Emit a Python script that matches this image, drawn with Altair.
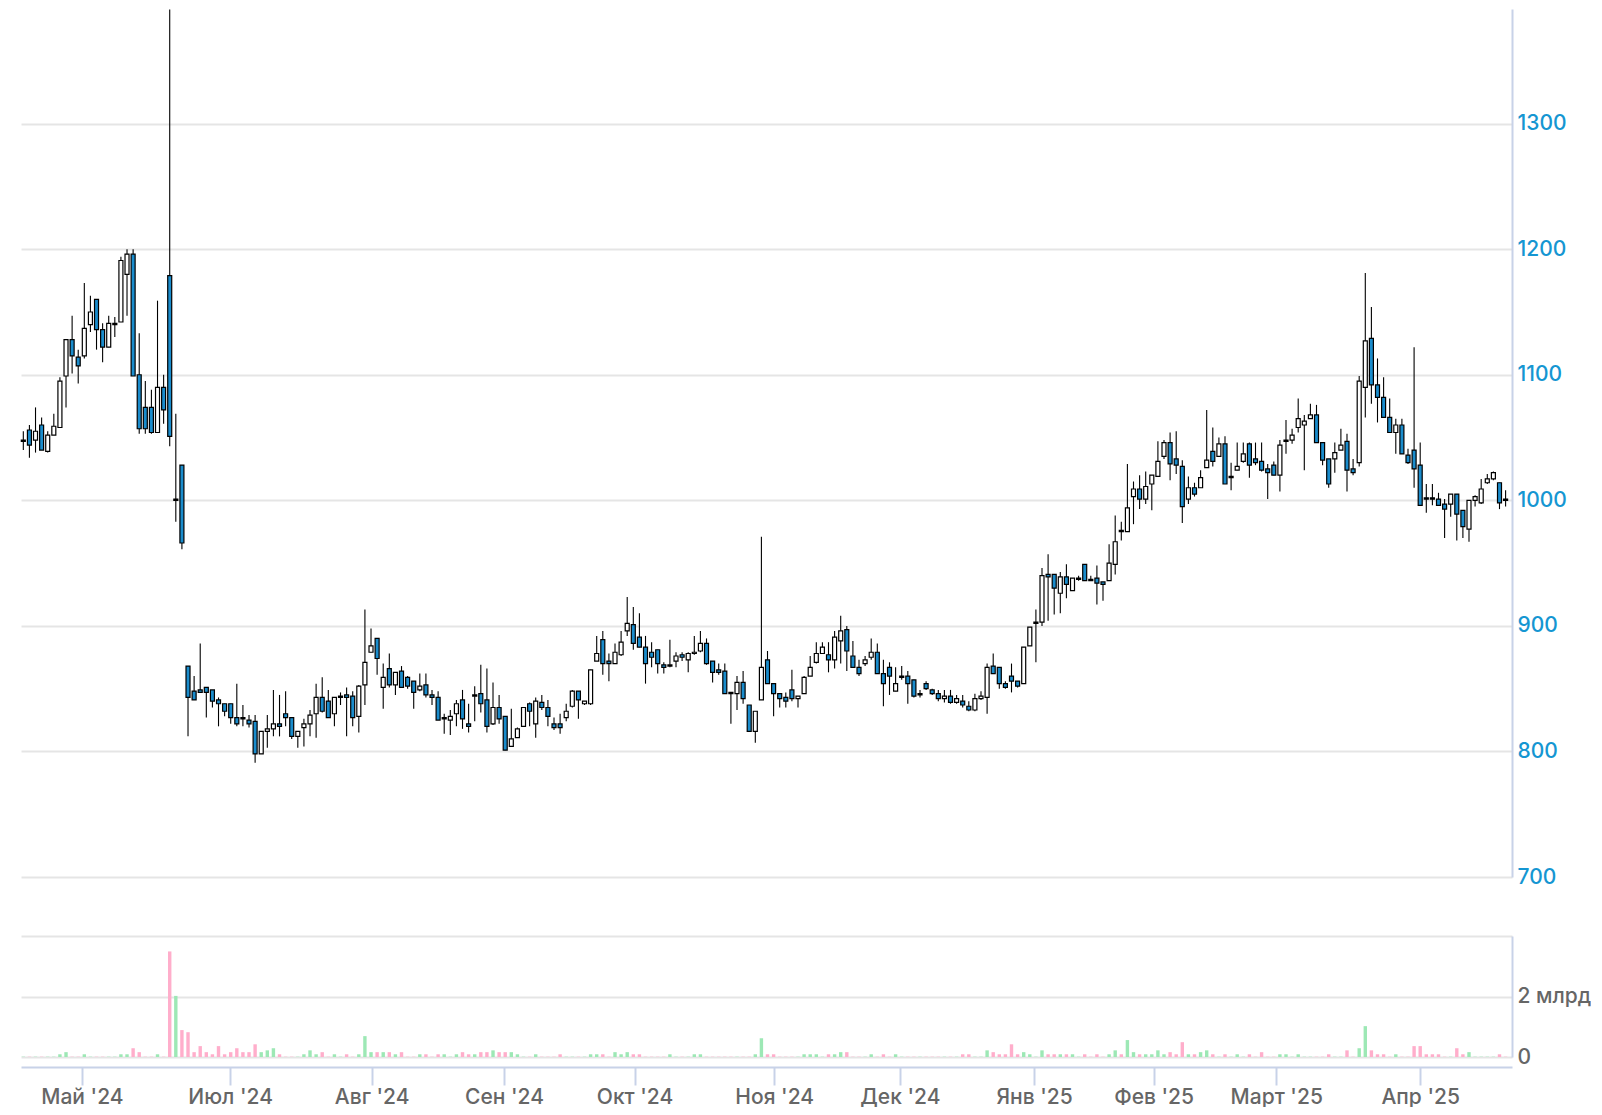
import json
import altair as alt
import pandas as pd

# Daily candles (index-based x axis), prices in RUB
OPEN = [1047, 1056, 1048, 1060, 1039, 1052, 1058, 1099, 1128, 1114,
        1115, 1140, 1160, 1136, 1122, 1140, 1142, 1180, 1196, 1100,
        1074, 1074, 1054, 1090, 1179, 1000, 1028, 868, 848, 849,
        851, 849, 841, 838, 838, 827, 827, 825, 824, 798,
        816, 818, 822, 830, 827, 812, 819, 822, 830, 843,
        840, 830, 843, 845, 844, 828, 853, 879, 890, 851,
        866, 853, 864, 859, 856, 849, 853, 845, 843, 826,
        825, 830, 841, 822, 844, 846, 841, 822, 835, 828,
        804, 811, 820, 838, 822, 839, 835, 822, 822, 827,
        836, 848, 838, 838, 872, 889, 872, 870, 877, 896,
        901, 891, 883, 879, 881, 869, 868, 872, 877, 873,
        878, 880, 886, 872, 865, 864, 847, 846, 855, 837,
        816, 841, 873, 854, 846, 843, 849, 842, 846, 860,
        871, 878, 877, 873, 888, 897, 876, 867, 870, 875,
        879, 862, 867, 848, 859, 860, 857, 845, 854, 849,
        846, 842, 844, 839, 840, 836, 833, 842, 843, 868,
        867, 854, 860, 856, 854, 884, 902, 903, 941, 941,
        926, 939, 928, 937, 949, 937, 938, 935, 936, 949,
        976, 975, 1003, 1009, 1001, 1013, 1019, 1035, 1046, 1033,
        1027, 1001, 1010, 1010, 1026, 1039, 1035, 1045, 1018, 1024,
        1031, 1045, 1033, 1031, 1025, 1028, 1020, 1047, 1048, 1058,
        1060, 1065, 1068, 1046, 1033, 1033, 1040, 1047, 1025, 1030,
        1090, 1129, 1092, 1082, 1066, 1054, 1060, 1036, 1040, 1028,
        1002, 1002, 1001, 997, 997, 1005, 992, 977, 1000, 998,
        1014, 1017, 1014, 1001]
HIGH = [1055, 1060, 1074, 1066, 1055, 1069, 1098, 1128, 1147, 1120,
        1173, 1163, 1160, 1141, 1147, 1146, 1194, 1200, 1200, 1133,
        1095, 1088, 1159, 1100, 1391, 1069, 1028, 868, 860, 886,
        851, 849, 843, 838, 838, 854, 837, 829, 829, 816,
        829, 849, 845, 848, 827, 816, 826, 833, 854, 859,
        849, 843, 847, 851, 848, 853, 913, 898, 890, 870,
        878, 863, 868, 860, 856, 862, 862, 849, 848, 830,
        833, 841, 849, 838, 852, 869, 866, 855, 845, 828,
        834, 819, 835, 839, 843, 845, 841, 827, 830, 838,
        849, 848, 840, 865, 892, 896, 878, 886, 896, 923,
        915, 910, 892, 887, 881, 871, 889, 879, 879, 879,
        892, 896, 890, 872, 870, 870, 847, 860, 864, 837,
        832, 971, 880, 854, 846, 847, 865, 844, 860, 876,
        887, 887, 887, 896, 908, 900, 888, 873, 876, 890,
        886, 873, 871, 867, 868, 864, 857, 849, 856, 850,
        849, 849, 849, 845, 845, 840, 846, 848, 870, 878,
        867, 856, 870, 856, 883, 899, 913, 946, 957, 941,
        943, 949, 938, 940, 949, 940, 948, 935, 965, 988,
        983, 1029, 1015, 1020, 1023, 1020, 1047, 1048, 1054, 1055,
        1032, 1019, 1014, 1024, 1072, 1058, 1050, 1051, 1030, 1046,
        1046, 1046, 1046, 1046, 1029, 1031, 1048, 1064, 1057, 1081,
        1068, 1077, 1076, 1046, 1033, 1046, 1057, 1053, 1033, 1099,
        1181, 1154, 1113, 1098, 1081, 1065, 1065, 1041, 1122, 1046,
        1013, 1013, 1006, 1001, 1005, 1005, 992, 1000, 1004, 1017,
        1021, 1023, 1014, 1008]
LOW = [1040, 1034, 1038, 1040, 1038, 1052, 1058, 1074, 1101, 1093,
       1113, 1134, 1120, 1110, 1122, 1130, 1142, 1147, 1099, 1053,
       1053, 1053, 1054, 1061, 1043, 983, 961, 812, 841, 847,
       827, 835, 820, 828, 822, 820, 820, 819, 791, 798,
       803, 812, 812, 820, 810, 803, 804, 812, 811, 831,
       827, 820, 837, 812, 820, 815, 837, 879, 861, 834,
       851, 845, 851, 850, 834, 848, 843, 837, 825, 814,
       813, 820, 818, 815, 824, 831, 815, 821, 822, 801,
       804, 811, 820, 820, 811, 833, 820, 817, 814, 824,
       835, 826, 837, 837, 872, 861, 856, 870, 876, 892,
       881, 883, 854, 867, 862, 862, 867, 867, 872, 863,
       877, 879, 869, 855, 861, 846, 822, 833, 838, 816,
       807, 841, 854, 828, 835, 835, 840, 835, 846, 860,
       870, 878, 863, 866, 870, 864, 867, 860, 868, 873,
       862, 836, 845, 848, 857, 838, 843, 843, 849, 845,
       840, 839, 838, 838, 835, 832, 832, 841, 830, 862,
       850, 850, 847, 851, 854, 884, 871, 900, 904, 909,
       910, 922, 928, 936, 936, 936, 917, 920, 936, 941,
       968, 975, 981, 993, 997, 992, 1019, 1033, 1016, 1021,
       982, 997, 1003, 1010, 1026, 1027, 1035, 1013, 1008, 1024,
       1030, 1018, 1028, 1023, 1001, 1020, 1007, 1037, 1045, 1054,
       1024, 1065, 1046, 1028, 1010, 1022, 1040, 1007, 1020, 1027,
       1066, 1077, 1062, 1066, 1054, 1037, 1037, 1029, 1010, 996,
       990, 996, 996, 970, 987, 968, 970, 967, 995, 997,
       1013, 1016, 993, 995]
CLOSE = [1048, 1044, 1055, 1040, 1052, 1059, 1095, 1128, 1115, 1107,
         1137, 1150, 1136, 1122, 1141, 1141, 1191, 1196, 1099, 1057,
         1057, 1054, 1090, 1072, 1051, 1001, 966, 843, 841, 847,
         847, 840, 838, 832, 827, 822, 826, 822, 798, 816,
         818, 822, 820, 827, 812, 816, 822, 829, 843, 832,
         827, 843, 844, 843, 827, 852, 871, 884, 874, 859,
         853, 863, 851, 852, 847, 852, 845, 843, 825, 827,
         828, 838, 826, 820, 845, 838, 820, 835, 826, 801,
         810, 818, 835, 832, 840, 835, 828, 819, 819, 832,
         848, 841, 840, 865, 878, 870, 870, 879, 887, 902,
         886, 883, 870, 875, 870, 867, 869, 876, 875, 878,
         879, 886, 870, 863, 863, 846, 846, 855, 842, 816,
         832, 867, 854, 846, 842, 840, 842, 844, 859, 867,
         878, 883, 873, 891, 896, 880, 867, 862, 873, 879,
         862, 854, 860, 854, 860, 854, 844, 846, 850, 846,
         842, 844, 839, 842, 837, 833, 842, 844, 867, 862,
         854, 851, 856, 852, 883, 899, 903, 940, 939, 930,
         939, 933, 938, 938, 936, 936, 934, 933, 950, 967,
         975, 994, 1009, 1001, 1011, 1020, 1031, 1046, 1029, 1028,
         995, 1010, 1005, 1018, 1032, 1031, 1045, 1013, 1019, 1027,
         1037, 1028, 1030, 1024, 1022, 1020, 1044, 1048, 1052, 1065,
         1063, 1068, 1046, 1032, 1013, 1038, 1044, 1024, 1022, 1095,
         1127, 1092, 1082, 1066, 1054, 1060, 1037, 1030, 1025, 996,
         1001, 1001, 996, 993, 1005, 989, 979, 1000, 1003, 1009,
         1017, 1022, 998, 1000]
# Daily turnover, billions of RUB
VOLUME_BN = [0.01, 0.01, 0.01, 0.01, 0.01, 0.01, 0.09, 0.16, 0.01, 0.01,
             0.09, 0.01, 0.01, 0.01, 0.01, 0.01, 0.09, 0.09, 0.29, 0.16,
             0.01, 0.01, 0.09, 0.01, 3.49, 2.02, 0.89, 0.82, 0.16, 0.36,
             0.16, 0.09, 0.36, 0.09, 0.16, 0.29, 0.16, 0.16, 0.42, 0.16,
             0.22, 0.29, 0.09, 0.01, 0.01, 0.01, 0.09, 0.22, 0.09, 0.16,
             0.01, 0.09, 0.01, 0.09, 0.01, 0.09, 0.69, 0.16, 0.16, 0.16,
             0.16, 0.09, 0.16, 0.01, 0.01, 0.09, 0.09, 0.01, 0.09, 0.09,
             0.01, 0.09, 0.16, 0.09, 0.09, 0.16, 0.16, 0.22, 0.16, 0.16,
             0.16, 0.09, 0.01, 0.01, 0.09, 0.01, 0.01, 0.01, 0.09, 0.01,
             0.01, 0.01, 0.01, 0.09, 0.09, 0.09, 0.01, 0.16, 0.09, 0.16,
             0.09, 0.09, 0.01, 0.01, 0.01, 0.01, 0.09, 0.01, 0.01, 0.01,
             0.09, 0.09, 0.01, 0.01, 0.01, 0.01, 0.01, 0.01, 0.01, 0.01,
             0.09, 0.62, 0.09, 0.09, 0.01, 0.01, 0.01, 0.01, 0.09, 0.09,
             0.09, 0.01, 0.09, 0.09, 0.16, 0.16, 0.01, 0.01, 0.01, 0.09,
             0.01, 0.09, 0.01, 0.09, 0.01, 0.01, 0.01, 0.01, 0.01, 0.01,
             0.01, 0.01, 0.01, 0.01, 0.09, 0.09, 0.01, 0.01, 0.22, 0.16,
             0.09, 0.09, 0.42, 0.09, 0.16, 0.09, 0.01, 0.22, 0.09, 0.09,
             0.09, 0.09, 0.09, 0.01, 0.09, 0.01, 0.09, 0.01, 0.09, 0.22,
             0.09, 0.56, 0.16, 0.09, 0.09, 0.09, 0.22, 0.09, 0.16, 0.09,
             0.49, 0.09, 0.09, 0.16, 0.22, 0.09, 0.01, 0.09, 0.01, 0.09,
             0.01, 0.09, 0.01, 0.16, 0.01, 0.01, 0.09, 0.09, 0.01, 0.09,
             0.01, 0.01, 0.01, 0.01, 0.09, 0.01, 0.01, 0.22, 0.01, 0.29,
             1.02, 0.22, 0.09, 0.09, 0.01, 0.09, 0.01, 0.01, 0.36, 0.36,
             0.09, 0.09, 0.09, 0.01, 0.01, 0.29, 0.09, 0.16, 0.01, 0.01,
             0.01, 0.01, 0.09, 0.01]

MONTH_POS = [9.6, 33.9, 57.1, 78.8, 100.2, 123.1, 143.7, 165.7, 185.3, 205.4, 229.0]
MONTH_LABELS = ["Май '24", "Июл '24", "Авг '24", "Сен '24", "Окт '24", "Ноя '24",
                "Дек '24", "Янв '25", "Фев '25", "Март '25", "Апр '25"]
PRICE_TICKS = [700, 800, 900, 1000, 1100, 1200, 1300]
VOLUME_TICKS = [0, 2, 4]

n = len(OPEN)
df = pd.DataFrame({"i": list(range(n)), "o": OPEN, "h": HIGH, "l": LOW,
                   "c": CLOSE, "v": VOLUME_BN})

xs = alt.Scale(domain=[-0.38, 244.05], nice=False, zero=False, padding=0)
ys = alt.Scale(domain=[700, 1391.3], nice=False, zero=False, padding=0)
up = "datum.c >= datum.o"

AXIS_LINE = "#c8d2e8"
GRID = "#e5e5e5"
FONT = "Inter"


def price_axis():
    return alt.Axis(
        orient="right", values=PRICE_TICKS, title=None, ticks=False, format="d",
        labelPadding=5, labelColor="#1596d2", labelFont=FONT, labelFontSize=21,
        labelFontWeight=500, labelBaseline="middle", domainColor=AXIS_LINE,
        domainWidth=2, gridColor=GRID, gridWidth=2, labelOverlap=False)


month_expr = (json.dumps(MONTH_LABELS, ensure_ascii=False)
              + "[indexof(" + json.dumps(MONTH_POS) + ", datum.value)]")

base = alt.Chart(df)

wicks = base.mark_rule(color="#000000", strokeWidth=1.1).encode(
    x=alt.X("i:Q", scale=xs, axis=None),
    y=alt.Y("l:Q", scale=ys, axis=price_axis()),
    y2="h:Q",
)
bodies = base.mark_bar(width=4, stroke="#000000", strokeWidth=1.2).encode(
    x=alt.X("i:Q", scale=xs, axis=None),
    y=alt.Y("o:Q", scale=ys, axis=price_axis()),
    y2="c:Q",
    fill=alt.condition(up, alt.value("#ffffff"), alt.value("#1a8ccc")),
)
price = alt.layer(wicks, bodies).properties(width=1491, height=868)

vol = base.mark_bar(width=3.4).encode(
    x=alt.X("i:Q", scale=xs, axis=alt.Axis(
        values=MONTH_POS, labelExpr=month_expr, title=None, grid=False,
        offset=10, tickSize=18, tickColor=AXIS_LINE, tickWidth=2,
        domainColor=AXIS_LINE, domainWidth=2, labelFont=FONT, labelFontSize=21,
        labelFontWeight=500, labelColor="#666666", labelPadding=1,
        labelFlush=False, labelOverlap=False)),
    y=alt.Y("v:Q", scale=alt.Scale(domain=[0, 4], nice=False, padding=0), axis=alt.Axis(
        orient="right", values=VOLUME_TICKS, title=None, ticks=False,
        labelExpr="datum.value == 0 ? '0' : (datum.value == 2 ? '2 млрд' : '')",
        labelPadding=5, labelColor="#666666", labelFont=FONT, labelFontSize=21,
        labelFontWeight=500, labelBaseline="middle", domainColor=AXIS_LINE,
        domainWidth=2, gridColor=GRID, gridWidth=2, labelOverlap=False)),
    color=alt.condition(up, alt.value("#9de8b5"), alt.value("#ffaecb")),
).properties(width=1491, height=121)

chart = alt.vconcat(price, vol, spacing=59, bounds="flush").properties(
    padding={"left": 12, "top": 0, "right": 0, "bottom": 0}
).configure(font=FONT, view=alt.ViewConfig(stroke="transparent", strokeWidth=0))

chart.save("out.html", embed_options={"renderer": "svg", "actions": False})
